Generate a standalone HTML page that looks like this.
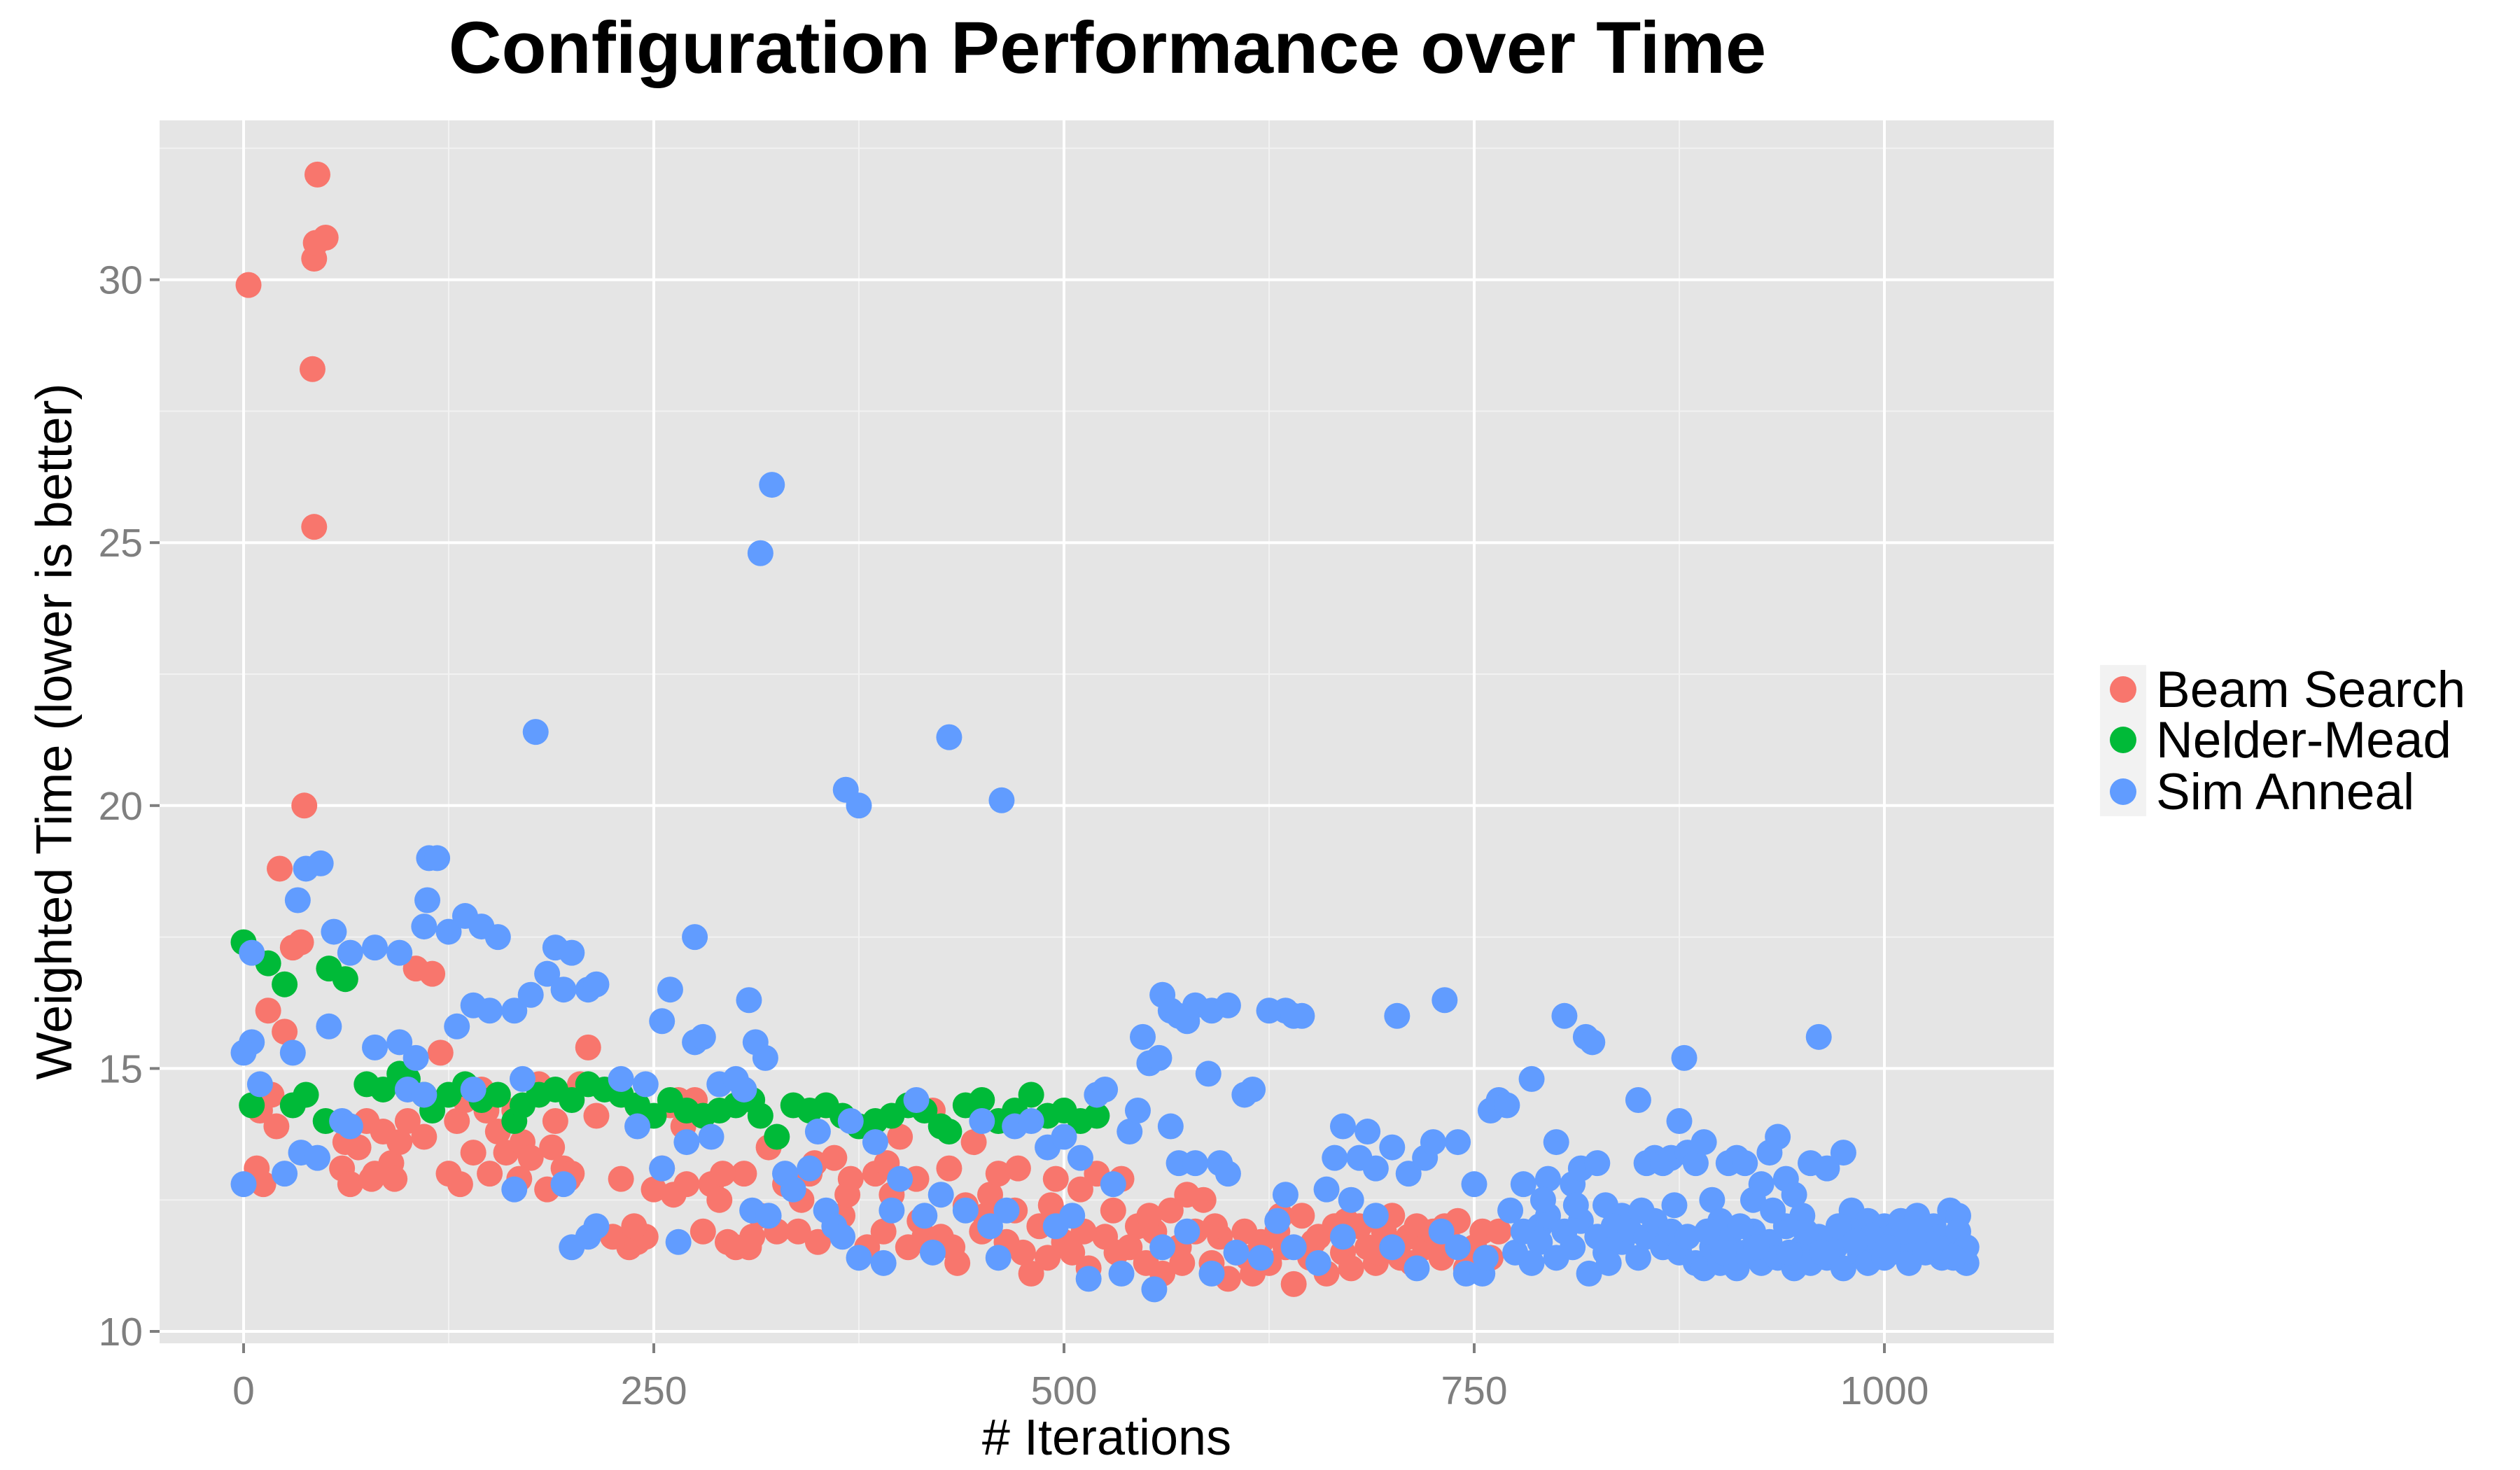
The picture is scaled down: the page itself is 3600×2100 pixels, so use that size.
<!DOCTYPE html>
<html><head><meta charset="utf-8"><style>
body{margin:0;background:#fff}
svg{display:block}
text{font-family:"Liberation Sans",sans-serif}
</style></head><body>
<svg id="chart" width="3600" height="2100" viewBox="0 0 3600 2100">
<text x="1582" y="104" text-anchor="middle" font-size="105" font-weight="bold">Configuration Performance over Time</text>
<rect x="228" y="172" width="2706" height="1747" fill="#e5e5e5"/>
<g id="grid"></g>
<g id="axes"></g>
<g id="points"></g>
<text transform="translate(102,1045) rotate(-90)" text-anchor="middle" font-size="72">Weighted Time (lower is better)</text>
<text x="1581" y="2078" text-anchor="middle" font-size="72"># Iterations</text>
<g>
<rect x="3000" y="950" width="66" height="216" fill="#f2f2f2"/>
<g><circle cx="3033" cy="985" r="19" fill="#F8766D"/><text x="3080" y="1010" font-size="73">Beam Search</text></g>
<g><circle cx="3033" cy="1057" r="19" fill="#00BA38"/><text x="3080" y="1082" font-size="73">Nelder-Mead</text></g>
<g><circle cx="3033" cy="1131" r="19" fill="#619CFF"/><text x="3080" y="1156" font-size="73">Sim Anneal</text></g>
</g>
</svg>
<script>
const xTicks=[0,250,500,750,1000];
const xTickLabels=["0","250","500","750","1000"];
const yTicks=[10,15,20,25,30];
const yTickLabels=["10","15","20","25","30"];
const xMinor=[125,375,625,875];
const yMinor=[12.5,17.5,22.5,27.5,32.5];
const beamX=[3,45,43,44,50,42,43,37,22,35,30,25,15,10,12,20,8,17,60,65,70,75,80,85,90,95,100,105,115,110,120,125,130,135,140,145,150,155,160,165,170,175,180,185,190,195,200,210,205,215,225,230,235,240,245,250,255,260,265,270,275,280,285,290,295,300,305,310,315,320,325,330,340,345,350,355,360,365,370,380,385,390,395,400,405,410,415,420,425,430,435,440,445,450,455,460,465,470,475,480,485,490,495,500,505,510,515,520,525,530,535,540,545,550,555,560,565,570,575,580,585,590,595,600,605,610,615,620,625,630,635,640,645,650,655,660,665,670,675,680,685,690,695,700,705,710,715,720,725,730,735,740,745,750,755,760,765,62,78,92,132,148,168,188,198,238,262,268,292,308,338,348,368,392,412,432,452,472,492,512,532,552,572,592,612,632,652,672,692,712,732];
const beamY=[29.9,32,30.4,30.7,30.8,28.3,25.3,20,18.8,17.4,17.3,15.7,16.1,14.2,12.8,13.9,13.1,14.5,13.1,12.8,13.5,14.0,13.0,13.8,13.2,13.6,14.0,16.9,16.8,13.7,15.3,13.0,14.0,14.4,13.4,14.6,13.0,13.8,13.4,14.2,13.6,13.3,14.7,12.7,14.0,13.1,13.0,15.4,14.7,14.1,11.8,12.9,11.6,11.7,11.8,12.7,13.1,14.3,14.4,12.8,14.4,11.9,12.8,12.5,11.7,11.6,13.0,11.8,12.2,13.5,11.9,12.8,12.5,13.0,11.7,14.3,13.3,12.2,12.9,11.6,13.0,11.9,12.6,13.7,11.6,12.9,11.8,14.2,11.8,13.1,11.3,12.4,13.6,11.9,12.6,13.0,11.7,12.3,11.5,11.1,12.0,11.4,12.9,11.7,11.5,12.7,11.2,13.0,11.8,12.3,12.9,11.6,12.0,11.3,11.9,11.1,12.3,11.6,12.6,11.9,12.5,11.3,11.8,11.0,11.5,11.9,11.1,11.7,11.3,11.9,11.6,10.9,12.2,11.4,11.8,11.1,12.0,11.5,11.2,12.0,11.6,11.3,11.9,12.2,11.4,11.8,12.0,11.6,11.9,11.4,11.7,12.1,11.2,11.6,11.9,11.4,11.9,13.6,12.9,12.9,12.8,14.2,12.9,13.5,12.9,12.0,12.6,13.9,13.0,11.6,11.9,13.2,12.6,13.2,12.1,11.6,12.2,13.1,12.4,11.9,11.5,12.2,11.3,12.0,11.4,12.2,11.7,12.1,11.5,11.3,12.0];
const nelderX=[0,15,25,52,62,5,30,38,50,75,85,95,100,110,115,125,135,145,155,165,170,180,190,200,210,220,230,240,250,260,270,280,290,300,310,315,325,335,345,355,365,375,385,395,405,415,425,430,440,450,460,470,480,490,500,510,520];
const nelderY=[17.4,17.0,16.6,16.9,16.7,14.3,14.3,14.5,14.0,14.7,14.6,14.9,14.8,14.5,14.2,14.5,14.7,14.4,14.5,14.0,14.3,14.5,14.6,14.4,14.7,14.6,14.5,14.3,14.1,14.4,14.2,14.1,14.2,14.3,14.4,14.1,13.7,14.3,14.2,14.3,14.1,13.9,14.0,14.1,14.3,14.2,13.9,13.8,14.3,14.4,14.0,14.2,14.5,14.1,14.2,14.0,14.1];
const simX=[322,315,178,430,367,375,462,38,47,33,113,118,112,5,55,65,80,95,110,125,135,145,155,190,200,185,195,210,215,275,140,150,165,175,260,255,308,52,5,0,30,80,95,105,130,275,280,312,318,10,0,25,35,45,60,65,100,110,140,170,195,165,200,210,215,230,245,240,255,265,270,285,290,300,305,310,320,330,335,345,350,355,360,365,370,375,385,390,395,400,410,415,420,425,440,450,455,460,465,470,480,490,495,500,505,510,515,520,525,530,535,540,545,548,552,555,558,560,565,570,575,580,590,600,588,610,615,625,635,640,645,565,570,580,595,600,620,630,635,660,665,670,675,680,685,690,700,703,710,720,725,732,740,745,750,755,760,765,770,780,785,790,795,800,805,810,815,818,822,825,830,840,850,855,860,865,870,875,878,880,885,890,895,900,905,910,915,920,925,930,935,940,945,950,955,960,965,975,980,990,1000,1010,1020,1030,1040,1045,1050,775,780,785,790,795,800,805,810,815,820,825,830,835,840,845,850,855,860,865,870,875,880,885,890,895,900,905,910,915,920,925,930,935,940,945,950,955,960,965,970,975,980,985,990,995,1000,1005,1010,1015,1020,1025,1030,1035,1040,1045,1050,772,792,812,832,852,872,892,912,932,952,972,992,1012,1032,1048,902,922,942,962,982,1002,1022,1042,560,575,590,605,640,655,670,690,700,715,730,740,757];
const simY=[26.1,24.8,21.4,21.3,20.3,20.0,20.1,18.8,18.9,18.2,19.0,19.0,18.2,17.2,17.6,17.2,17.3,17.2,17.7,17.6,17.9,17.7,17.5,17.3,17.2,16.8,16.5,16.5,16.6,17.5,16.2,16.1,16.1,16.4,16.5,15.9,16.3,15.8,15.5,15.3,15.3,15.4,15.5,15.2,15.8,15.5,15.6,15.5,15.2,14.7,12.8,13.0,13.4,13.3,14.0,13.9,14.6,14.5,14.6,14.8,12.8,12.7,11.6,11.8,12.0,14.8,14.7,13.9,13.1,11.7,13.6,13.7,14.7,14.8,14.6,12.3,12.2,13.0,12.7,13.1,13.8,12.3,12.0,11.8,14.0,11.4,13.6,11.3,12.3,12.9,14.4,12.2,11.5,12.6,12.3,14.0,12.0,11.4,12.3,13.9,14.0,13.5,12.0,13.7,12.2,13.3,11.0,14.5,14.6,12.8,11.1,13.8,14.2,15.6,15.1,10.8,15.2,16.4,16.1,16.0,15.9,16.2,16.1,16.2,14.9,14.5,14.6,16.1,16.1,16.0,16.0,13.9,13.2,13.2,13.2,13.0,11.4,12.1,12.6,12.7,13.3,13.9,12.5,13.3,13.8,13.1,13.5,16.0,13.0,13.3,13.6,16.3,13.6,11.1,12.8,11.1,14.2,14.4,14.3,12.8,14.8,12.0,12.9,13.6,16.0,12.8,13.1,15.6,15.5,13.2,12.4,12.2,14.4,13.2,13.3,13.2,13.3,14.0,15.2,13.4,13.2,13.6,12.5,12.1,13.2,13.3,13.2,12.5,12.8,13.4,13.7,12.9,12.6,12.2,13.2,15.6,13.1,13.4,12.3,12.1,12.0,12.1,12.2,12.0,12.3,12.2,11.3,11.5,11.9,11.3,11.7,12.2,11.4,11.9,11.6,12.1,11.1,11.8,11.5,12.0,11.7,11.9,11.4,11.8,12.1,11.6,11.9,11.5,11.8,11.3,11.2,11.6,11.3,11.8,11.2,11.5,11.9,11.3,11.7,11.4,12.0,11.2,11.6,11.3,11.8,11.4,11.6,11.2,11.9,11.5,11.3,11.7,11.4,11.8,11.5,11.3,11.7,11.5,11.8,11.4,11.6,11.9,11.6,12.3,12.5,12.4,11.3,12.3,12.4,11.9,12.0,12.3,11.9,12.0,11.8,11.9,11.6,11.5,11.5,11.6,11.5,11.5,11.7,11.6,11.9,11.4,11.6,11.9,11.1,11.5,11.6,11.3,11.8,12.2,11.6,11.2,11.9,11.6,11.4];

const NS='http://www.w3.org/2000/svg';
const PL=228,PR=2934,PT=172,PB=1919;
function sx(v){return 348+(v-0)*(2692-348)/1000;}
function sy(v){return 1902-(v-10)*(1902-399.6)/20;}
function mk(tag,attrs,parent){const e=document.createElementNS(NS,tag);for(const k in attrs)e.setAttribute(k,attrs[k]);parent.appendChild(e);return e;}
const grid=document.getElementById('grid'),axes=document.getElementById('axes'),pts=document.getElementById('points');
xMinor.forEach(v=>{const l=mk('line',{x1:sx(v),x2:sx(v),y1:PT,y2:PB,stroke:'#f2f2f2','stroke-width':2},grid);

});
yMinor.forEach(v=>{if(sy(v)<PT)return;const l=mk('line',{x1:PL,x2:PR,y1:sy(v),y2:sy(v),stroke:'#f2f2f2','stroke-width':2},grid);

});
xTicks.forEach((v,i)=>{const l=mk('line',{x1:sx(v),x2:sx(v),y1:PT,y2:PB,stroke:'#fff','stroke-width':4},grid);


const t=mk('line',{x1:sx(v),x2:sx(v),y1:PB,y2:PB+14,stroke:'#7f7f7f','stroke-width':4},axes);


const tx=mk('text',{x:sx(v),y:2006,'text-anchor':'middle','font-size':57,fill:'#7f7f7f'},axes);tx.textContent=xTickLabels[i];

});
yTicks.forEach((v,i)=>{const l=mk('line',{x1:PL,x2:PR,y1:sy(v),y2:sy(v),stroke:'#fff','stroke-width':4},grid);


const t=mk('line',{x1:PL-14,x2:PL,y1:sy(v),y2:sy(v),stroke:'#7f7f7f','stroke-width':4},axes);


const tx=mk('text',{x:PL-24,y:sy(v)+20,'text-anchor':'end','font-size':57,fill:'#7f7f7f'},axes);tx.textContent=yTickLabels[i];

});
function series(xs,ys,color,name){xs.forEach((x,i)=>{const c=mk('circle',{cx:sx(x),cy:sy(ys[i]),r:18.5,fill:color},pts);

});}
series(beamX,beamY,'#F8766D','beam-search-point');
series(nelderX,nelderY,'#00BA38','nelder-mead-point');
series(simX,simY,'#619CFF','sim-anneal-point');
</script>
</body></html>
